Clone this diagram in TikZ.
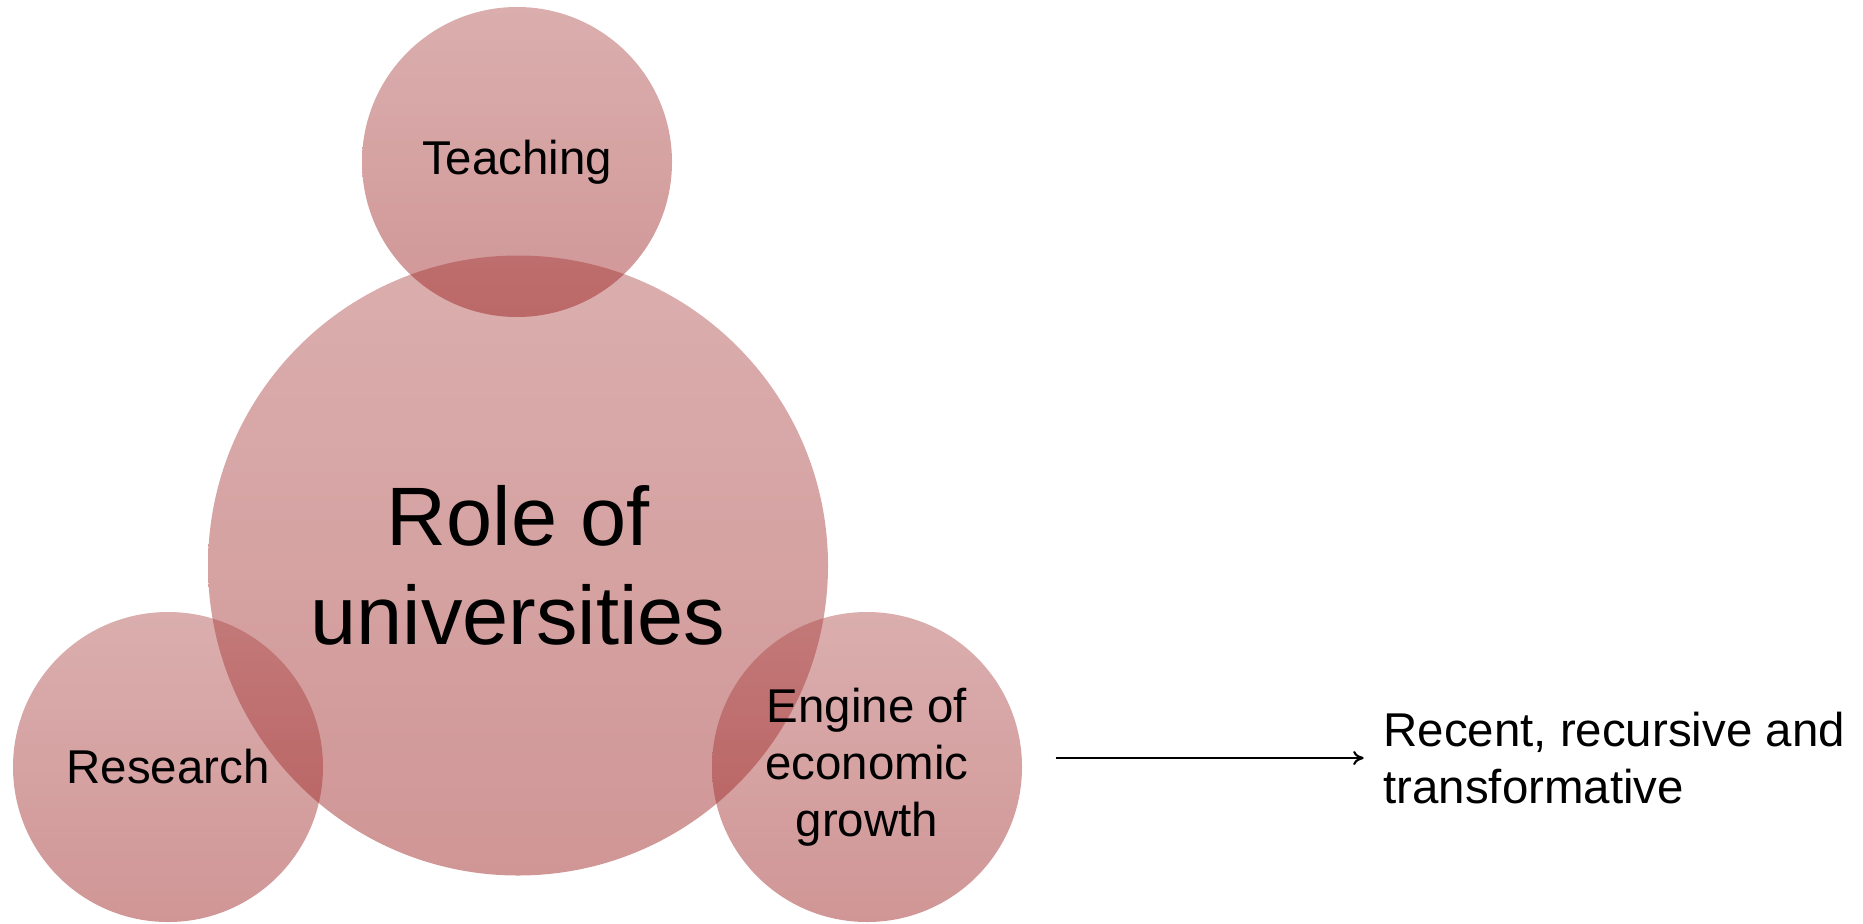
\documentclass[tikz,border=0pt]{standalone}
\usepackage{fontspec}
\setmainfont{Liberation Sans}
\usepackage{tikz}
\usetikzlibrary{positioning, arrows.meta}

\definecolor{bubbletop}{RGB}{175,75,75}
\definecolor{bubblebottom}{RGB}{151,22,22}

\begin{document}
\begin{tikzpicture}[
  every node/.style={align=center, font=\fontsize{13.5}{16.2}\selectfont},
  bubble/.style={circle, minimum size=3.1cm, inner sep=0pt, top color=bubbletop, bottom color=bubblebottom, fill opacity=0.45, text opacity=1},
  bigbubble/.style={bubble, minimum size=6.2cm, font=\fontsize{23.6}{28.2}\selectfont},
  arrow/.style={-{To[length=3pt, width=4pt]}, line width=0.6pt}
  ]
\useasboundingbox (0,0) rectangle (18.63,9.23);

\node[bigbubble] (role) at (5.18,3.575) {Role of \\ universities};
\node[bubble] (teaching) at (5.17,7.61) {Teaching};
\node[bubble] (research) at (1.68,1.56) {Research};
\node[bubble] (engine) at (8.67,1.56) {Engine of \\ economic \\ growth};
\node[right=3.6cm of engine, yshift=0.09cm, inner sep=0pt, align=left] (recent) {Recent, recursive and \\ transformative};

\draw[arrow, shorten <=0.33cm, shorten >=0.19cm] (engine.east |- recent.west) -- (recent.west);
\end{tikzpicture}
\end{document}
